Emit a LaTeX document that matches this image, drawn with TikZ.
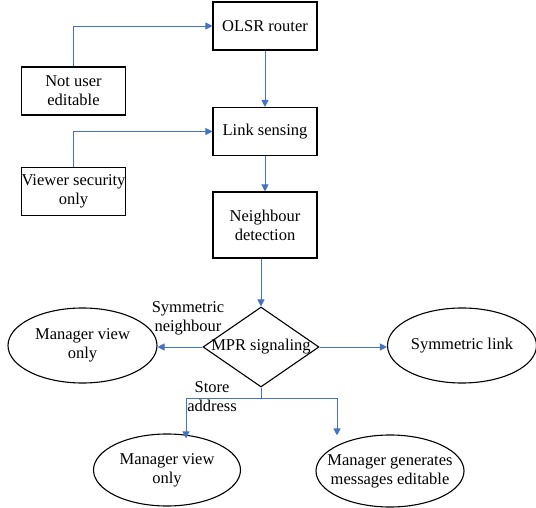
\documentclass[tikz,border=0pt]{standalone}
\usepackage{fontspec}
\setmainfont{Liberation Serif}
\usetikzlibrary{arrows.meta,shapes.geometric,positioning}
\definecolor{flowblue}{HTML}{4472C4}

\begin{document}
\begin{tikzpicture}[x=1pt,y=-1pt,font=\fontsize{16.5}{19}\selectfont,
  box/.style={draw,line width=1.1pt,minimum width=104pt,minimum height=48pt,align=center,inner sep=1pt},
  oval/.style={draw,ellipse,line width=1.1pt,minimum width=149pt,minimum height=75pt,align=center,inner sep=0pt},
  flow/.style={draw=flowblue,line width=0.9pt,-{Triangle[width=7pt,length=7pt]}}]
  \useasboundingbox (0,0) rectangle (536,508);
  % boxes
  \node[box] (olsr) at (265,26) {OLSR router};
  \node[box] (notuser) at (73.5,91) {Not user\\editable};
  \node[box] (link) at (265,131.5) {Link sensing};
  \node[box] (viewer) at (73.5,191.5) {\makebox[0pt]{Viewer security}\\only};
  \node[box,minimum height=66pt] (nbr) at (265,225) {Neighbour\\detection};
  % decision
  \node[draw,diamond,line width=1.1pt,minimum width=116pt,minimum height=80pt,aspect=1.45,inner sep=0pt] (mpr) at (261,347) {\makebox[0pt]{MPR signaling}};
  \node[oval] (mgrleft) at (82.5,345.5) {Manager view\\only};
  \node[oval] (symlink) at (462,345.5) {Symmetric link};
  \node[oval,minimum width=147pt,minimum height=72pt] (mgrbot) at (167,470) {Manager view\\only};
  \node[oval,minimum width=148pt,minimum height=72pt] (mgrgen) at (390,471) {\makebox[0pt]{Manager generates}\\\makebox[0pt]{messages editable}};
  % labels
  \node[align=center,inner sep=0pt] (symnbr) at (188,318) {Symmetric\\neighbour};
  \node[align=center,inner sep=0pt] (store) at (212,397) {Store\\address};
  \coordinate (split) at (261,398);
  % connectors
  \draw[flow] (notuser.north) |- (olsr.west);
  \draw[flow] (viewer.north) |- (link.west);
  \draw[flow] (olsr) -- (link);
  \draw[flow] (link) -- (nbr);
  \draw[flow] (nbr.south -| mpr.north) -- (mpr.north);
  \draw[flow] (mpr.west) -- (mgrleft.east |- mpr.west);
  \draw[flow] (mpr.east) -- (symlink.west |- mpr.east);
  \draw[draw=flowblue,line width=0.9pt] (mpr.south) -- (split);
  \draw[flow] (split) -| ([yshift=-5pt]mgrbot.north -| 186,0);
  \draw[flow] (split) -| ([yshift=-1pt]mgrgen.north -| 337,0);
\end{tikzpicture}
\end{document}
